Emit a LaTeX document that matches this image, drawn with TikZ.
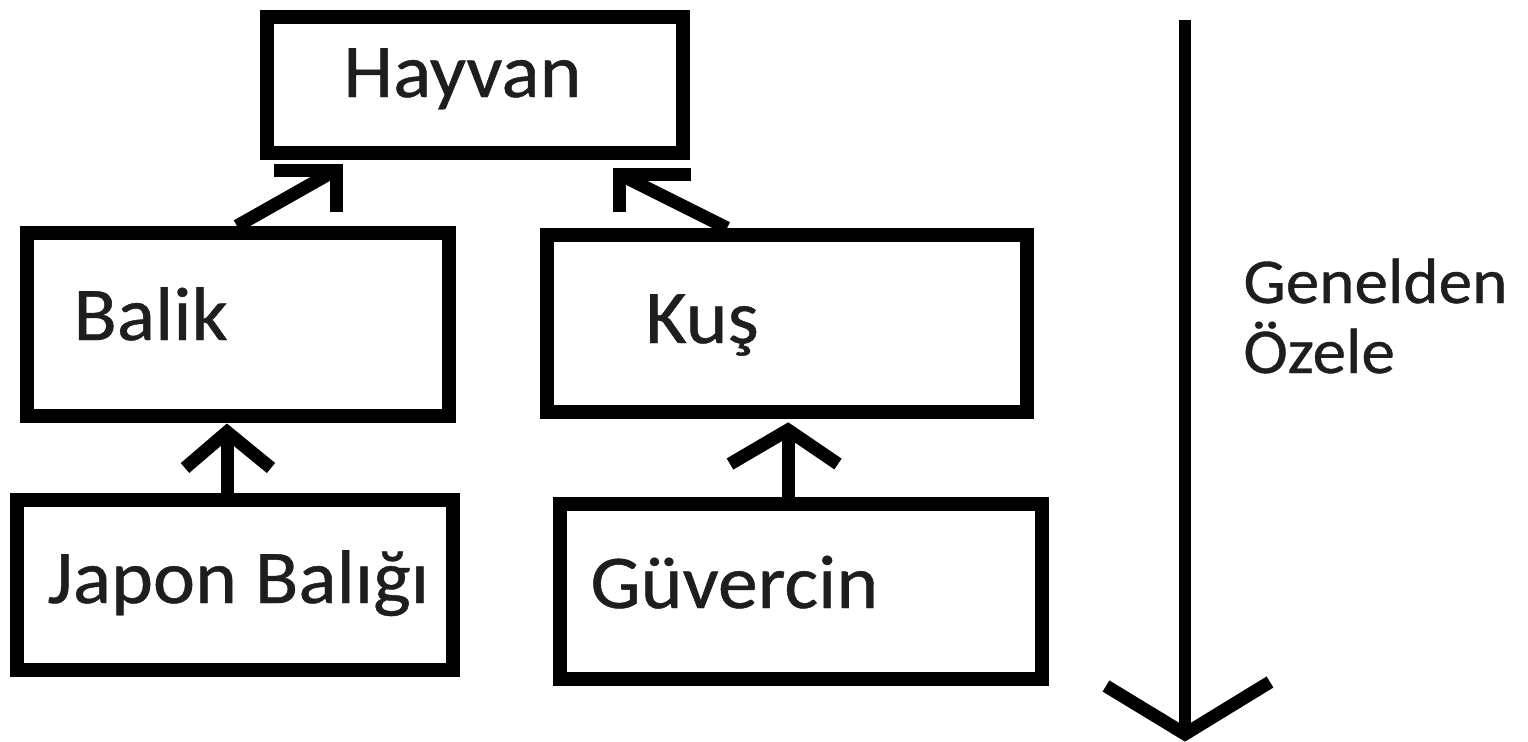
\documentclass[tikz,border=0pt]{standalone}
\usepackage{fontspec}
\setmainfont{Carlito}[FakeStretch=1.05,FakeBold=0.6]
\begin{document}
\begin{tikzpicture}[x=0.5pt,y=-0.5pt,
  box/.style={draw=black,line width=7pt,inner sep=0pt,fill=white},
  lbl/.style={anchor=base west,inner sep=0pt,text={rgb,255:red,30;green,30;blue,30},font=\fontsize{38}{44}\selectfont},
  side/.style={lbl,font=\fontsize{32}{38}\selectfont},
  conn/.style={draw=black,line width=6.5pt,line join=miter}]
\useasboundingbox[fill=white] (0,0) rectangle (1528,741);

% class boxes
\node[box,minimum width=208pt,minimum height=68pt]   (hayvan) at (475,85) {};
\node[box,minimum width=211pt,minimum height=91.5pt] (balik)  at (238,324.5) {};
\node[box,minimum width=240pt,minimum height=88.5pt] (kus)    at (787,323.5) {};
\node[box,minimum width=218pt,minimum height=85pt]   (japon)  at (235,585) {};
\node[box,minimum width=241pt,minimum height=87.5pt] (guv)    at (801,591.5) {};

% labels
\node[lbl] (tHayvan) at (343,97)  {Hayvan};
\node[lbl] (tBalik)  at (73,340)  {Balik};
\node[lbl] (tKus)    at (645,343) {Kuş};
\node[lbl] (tJapon)  at (47,603)  {Japon Balığı};
\node[lbl] (tGuv)    at (590,608) {Güvercin};
\node[side] (tGen)   at (1243,303) {Genelden};
\node[side] (tOz)    at (1243,373) {Özele};

% inheritance connectors
\coordinate (a1) at (balik.north -| 237,0);
\coordinate (a1t) at (336,170);
\draw[conn] (a1) -- (a1t);
\draw[conn] ([shift={(-62,0)}]a1t) -- (a1t) -- ++(0,42);

\coordinate (a2) at (kus.north -| 727,0);
\coordinate (a2t) at (619,174);
\draw[conn] (a2) -- (a2t);
\draw[conn] ([shift={(72,0)}]a2t) -- (a2t) -- ++(0,38);

\coordinate (a3) at (japon.north -| 227,0);
\coordinate (a3t) at (227,432);
\draw[conn] (a3) -- (a3t);
\draw[conn] ([shift={(-42,36)}]a3t) -- (a3t) -- ++(44,36);

\coordinate (a4) at (guv.north -| 788,0);
\coordinate (a4t) at (788,430);
\draw[conn] (a4) -- (a4t);
\draw[conn] ([shift={(-58,34)}]a4t) -- (a4t) -- ++(50,34);

% general-to-specific arrow
\coordinate (g0) at (1185,20);
\coordinate (g1) at (1185,734);
\draw[conn,line width=6pt] (g0) -- (g1);
\draw[conn] (1106,686) -- (g1) -- (1270,682);
\end{tikzpicture}
\end{document}
